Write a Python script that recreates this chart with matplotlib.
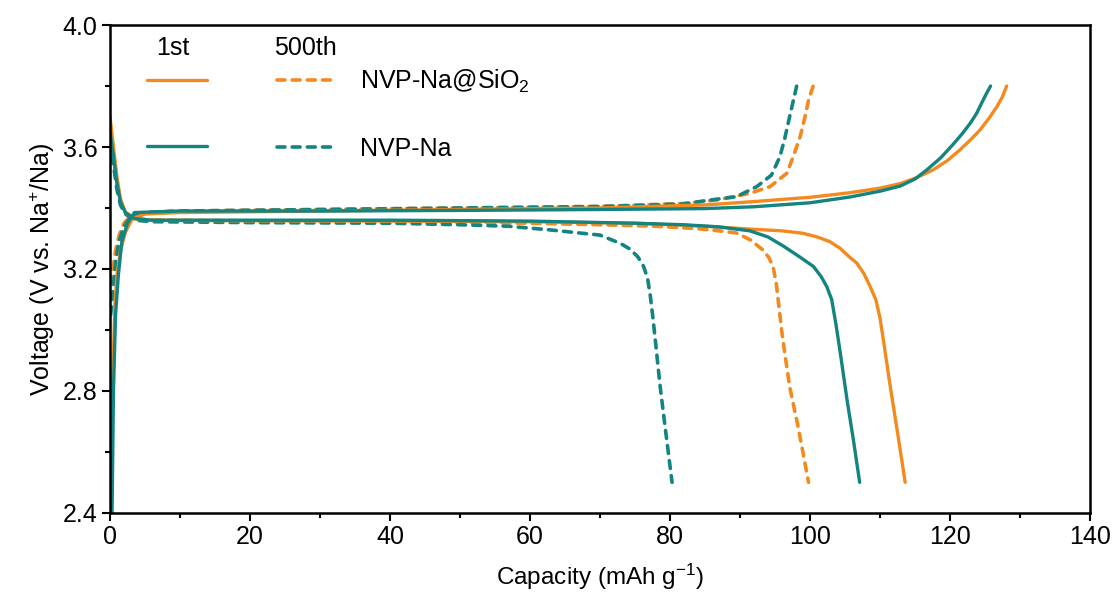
import matplotlib
matplotlib.use("Agg")
import matplotlib.pyplot as plt
from matplotlib.ticker import MultipleLocator, FormatStrFormatter

plt.rcParams['font.family'] = ['Liberation Sans', 'DejaVu Sans']
plt.rcParams['mathtext.fontset'] = 'custom'
plt.rcParams['mathtext.rm'] = 'Liberation Sans'
plt.rcParams['mathtext.it'] = 'Liberation Sans:italic'

ORANGE = '#F28A1F'
TEAL = '#13847F'

# --- charge curves (capacity mAh/g, voltage V) ---
sio2_1st_chg_cap = [0.2, 0.4, 0.7, 1.0, 1.5, 2.2, 3.2, 5, 10, 30, 50, 70, 85, 91.4, 100, 105.7,
                    110, 112.9, 115.3, 117.6, 119.6, 121.4, 123, 124.3, 125.6, 126.7, 127.5, 128.1]
sio2_1st_chg_v = [2.45, 2.85, 3.08, 3.18, 3.26, 3.32, 3.365, 3.38, 3.385, 3.39, 3.395, 3.40, 3.41,
                  3.42, 3.435, 3.45, 3.465, 3.48, 3.50, 3.525, 3.555, 3.59, 3.625, 3.656, 3.695,
                  3.732, 3.765, 3.80]
na_1st_chg_cap = [0.3, 0.5, 0.8, 1.2, 1.7, 2.5, 3.5, 10, 30, 50, 70, 85, 92, 100, 105.7, 110,
                  112.9, 115, 116.7, 118.7, 120.5, 121.8, 122.9, 123.8, 124.5, 125.2, 125.8]
na_1st_chg_v = [2.40, 2.8, 3.05, 3.18, 3.29, 3.35, 3.385, 3.39, 3.39, 3.392, 3.395, 3.398, 3.404,
                3.417, 3.436, 3.455, 3.472, 3.495, 3.525, 3.565, 3.61, 3.645, 3.678, 3.71,
                3.743, 3.775, 3.80]
sio2_500_chg_cap = [0.1, 0.4, 0.8, 1.3, 2, 3, 5, 10, 30, 50, 70, 81.9, 86.7, 91.4, 94.3, 96.7,
                    97.6, 98.6, 99.3, 99.8, 100.5]
sio2_500_chg_v = [3.15, 3.2, 3.26, 3.31, 3.35, 3.375, 3.385, 3.39, 3.395, 3.40, 3.405, 3.415,
                  3.426, 3.448, 3.47, 3.514, 3.568, 3.634, 3.70, 3.754, 3.803]
na_500_chg_cap = [0.1, 0.4, 0.8, 1.3, 2, 3, 5, 10, 30, 50, 70, 81.9, 85.7, 89.5, 92.4, 94.5,
                  95.7, 96.4, 97.1, 97.6, 98.1]
na_500_chg_v = [3.05, 3.12, 3.22, 3.29, 3.34, 3.37, 3.385, 3.39, 3.395, 3.40, 3.405, 3.413,
                3.426, 3.437, 3.47, 3.508, 3.568, 3.628, 3.70, 3.75, 3.80]

# --- discharge curves ---
sio2_1st_dis_cap = [0, 0.5, 1.0, 1.5, 2.2, 3.5, 6, 20, 40, 60, 75, 85, 92, 96, 99, 101, 102.8,
                    104.3, 105.6, 106.7, 107.7, 108.6, 109.4, 110.0, 110.6, 111.3, 112.6, 113.6]
sio2_1st_dis_v = [3.70, 3.60, 3.50, 3.43, 3.385, 3.365, 3.36, 3.358, 3.357, 3.355, 3.35, 3.34,
                  3.33, 3.325, 3.317, 3.305, 3.29, 3.268, 3.24, 3.219, 3.185, 3.142, 3.10,
                  3.04, 2.95, 2.84, 2.65, 2.50]
na_1st_dis_cap = [0, 0.5, 1.0, 1.5, 2.2, 3.5, 6, 20, 40, 60, 75, 82, 87, 91.4, 94, 96.2, 98.5,
                  100.5, 101.6, 102.4, 103.1, 103.7, 104.3, 105.3, 106.2, 107.1]
na_1st_dis_v = [3.65, 3.57, 3.48, 3.42, 3.385, 3.365, 3.36, 3.36, 3.36, 3.357, 3.35, 3.345,
                3.338, 3.325, 3.305, 3.275, 3.24, 3.208, 3.175, 3.142, 3.10, 3.02, 2.93, 2.77,
                2.64, 2.50]
sio2_500_dis_cap = [0, 0.5, 1.0, 1.5, 2.2, 3.5, 6, 20, 40, 60, 70, 78, 84, 87, 89.5, 91.5, 93.3,
                    94.2, 94.8, 95.2, 95.6, 96.0, 96.4, 97.1, 98.3, 99.8]
sio2_500_dis_v = [3.68, 3.58, 3.49, 3.42, 3.385, 3.365, 3.36, 3.358, 3.356, 3.35, 3.345, 3.34,
                  3.332, 3.325, 3.318, 3.295, 3.262, 3.235, 3.20, 3.15, 3.07, 2.99, 2.924,
                  2.814, 2.683, 2.50]
na_500_dis_cap = [0, 0.5, 1.0, 1.5, 2.2, 3.5, 6, 20, 40, 50, 57, 62.9, 70, 72.9, 74.3, 75.4,
                  76.2, 76.8, 77.2, 77.6, 78.1, 78.6, 79.3, 80.3]
na_500_dis_v = [3.62, 3.54, 3.46, 3.41, 3.38, 3.36, 3.355, 3.352, 3.35, 3.345, 3.34, 3.328,
                3.311, 3.284, 3.265, 3.24, 3.21, 3.17, 3.11, 3.033, 2.924, 2.814, 2.683, 2.50]

series_labels = ['NVP-Na@SiO$_2$', 'NVP-Na']
cycle_labels = ['1st', '500th']

fig = plt.figure(figsize=(11.13, 5.97), dpi=100)
ax = fig.add_axes([0.0988, 0.141, 0.8805, 0.817])

solid = dict(lw=2.4, solid_capstyle='round', solid_joinstyle='round')
dash = dict(lw=2.6, linestyle=(0, (2.2, 2.0)), dash_capstyle='round')

# 500th cycle dashed lines
h3, = ax.plot(sio2_500_chg_cap, sio2_500_chg_v, color=ORANGE, **dash)
ax.plot(sio2_500_dis_cap, sio2_500_dis_v, color=ORANGE, **dash)
h4, = ax.plot(na_500_chg_cap, na_500_chg_v, color=TEAL, **dash)
ax.plot(na_500_dis_cap, na_500_dis_v, color=TEAL, **dash)

# 1st cycle solid lines
h1, = ax.plot(sio2_1st_chg_cap, sio2_1st_chg_v, color=ORANGE, **solid)
ax.plot(sio2_1st_dis_cap, sio2_1st_dis_v, color=ORANGE, **solid)
h2, = ax.plot(na_1st_chg_cap, na_1st_chg_v, color=TEAL, **solid)
ax.plot(na_1st_dis_cap, na_1st_dis_v, color=TEAL, **solid)

ax.set_xlim(0, 140)
ax.set_ylim(2.4, 4.0)
ax.xaxis.set_major_locator(MultipleLocator(20))
ax.xaxis.set_minor_locator(MultipleLocator(10))
ax.yaxis.set_major_locator(MultipleLocator(0.4))
ax.yaxis.set_minor_locator(MultipleLocator(0.2))
ax.yaxis.set_major_formatter(FormatStrFormatter('%.1f'))
ax.tick_params(which='major', direction='out', length=6, width=1.5, labelsize=18, pad=3)
ax.tick_params(which='minor', direction='out', length=3.5, width=1.5)
for sp in ax.spines.values():
    sp.set_linewidth(1.8)

ax.set_xlabel('Capacity (mAh g$^{-1}$)', fontsize=17.5, labelpad=9)
ax.set_ylabel('Voltage (V vs. Na$^{+}$/Na)', fontsize=18, labelpad=4)

ax.legend([h1, h2, h3, h4], ['', '', series_labels[0], series_labels[1]], ncol=2,
          loc='upper left', bbox_to_anchor=(0.0378, 0.912), frameon=False, fontsize=18,
          borderpad=0, borderaxespad=0, handlelength=2.4, handletextpad=0.9,
          columnspacing=1.9, labelspacing=1.68)
ax.text(0.064, 0.953, cycle_labels[0], transform=ax.transAxes, fontsize=18,
        ha='center', va='center')
ax.text(0.199, 0.953, cycle_labels[1], transform=ax.transAxes, fontsize=18,
        ha='center', va='center')

fig.savefig('out.png', dpi=100)
